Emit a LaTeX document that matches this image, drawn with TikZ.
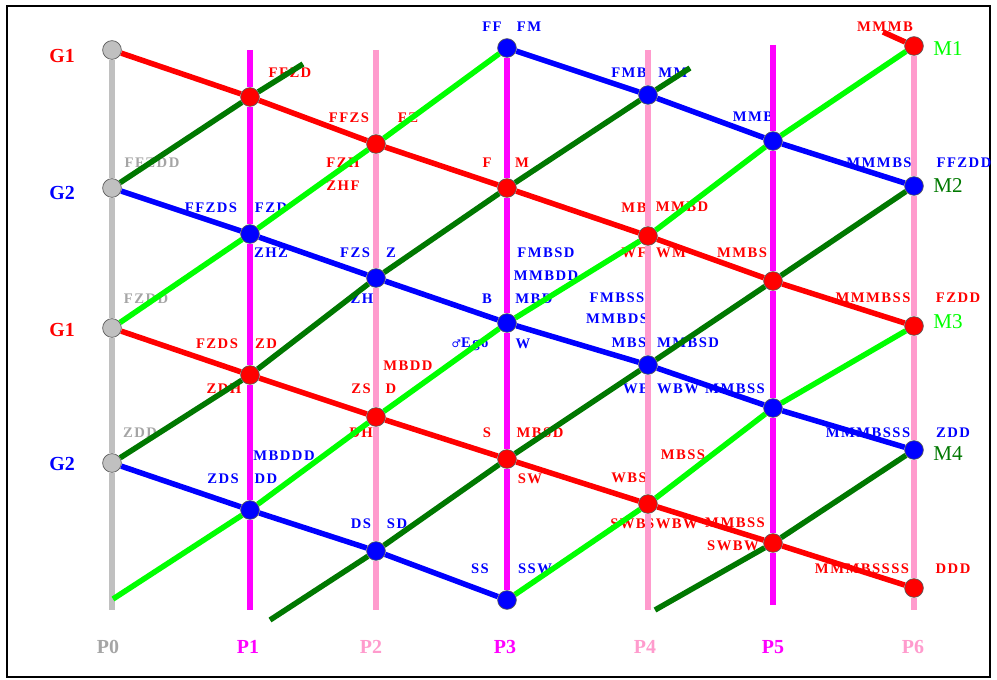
\documentclass[tikz,border=0pt]{standalone}
\usepackage{fontspec}
\setmainfont{Liberation Serif}
\newfontfamily\lblfont[LetterSpace=10]{Liberation Serif}
\newfontfamily\symfont{DejaVu Sans}
\definecolor{kRed}{RGB}{255,0,0}\definecolor{kBlue}{RGB}{0,0,255}
\definecolor{kLime}{RGB}{0,255,0}\definecolor{kDkGreen}{RGB}{0,120,0}
\definecolor{kMag}{RGB}{255,0,255}\definecolor{kPink}{RGB}{255,155,205}
\definecolor{kGray}{RGB}{192,192,192}\definecolor{kGrayTxt}{RGB}{165,165,165}
\tikzset{wire/.style={line width=4.7pt},redl/.style={wire,kRed},bluel/.style={wire,kBlue},
limel/.style={wire,kLime},dgreenl/.style={wire,kDkGreen},
magl/.style={wire,kMag},pinkl/.style={wire,kPink},grayl/.style={wire,kGray},
dot/.style={circle,draw=black!65,line width=.6pt,minimum size=16pt,inner sep=0pt},
rdot/.style={dot,fill=kRed},bdot/.style={dot,fill=kBlue},gdot/.style={dot,fill=kGray},
lbl/.style={inner sep=0pt,font=\lblfont\bfseries\fontsize{12.5}{13}\selectfont},
big/.style={inner sep=0pt,font=\bfseries\fontsize{17}{18}\selectfont},
bigthin/.style={inner sep=0pt,font=\fontsize{18}{19}\selectfont}}

\begin{document}
\begin{tikzpicture}[x=.03cm,y=-.03cm]
\useasboundingbox (0,0) rectangle (997,680);
\draw[line width=2.4pt] (7,6) rectangle (990,677);
% labels
\foreach \x/\y/\t [count=\i] in {290/73/FFZD,349/118/FFZS,408/118/FZ,343/163/FZH,343/186/ZHF,487/163/F,522/163/M,634/208/MB,682/207/MMBD,634/253/WF,671/253/WM,742/253/MMBS,885/27/MMMB,873/298/MMMBSS,958/298/FZDD,217/344/FZDS,266/344/ZD,224/389/ZDH,408/366/MBDD,361/389/ZS,391/389/D,361/433/DH,487/433/S,540/433/MBSD,530/479/SW,683/455/MBSS,629/478/WBS,628/524/SWB,672/524/SWBW,735/523/MMBSS,862/569/MMMBSSSS,953/569/DDD}
  \node[lbl,text=kRed] (r\i) at (\x,\y) {\t};
\node[lbl,text=kRed,anchor=west] (rswbw) at (707,546) {SWBW};
\foreach \x/\y/\t [count=\i] in {492/27/FF,529/27/FM,629/73/FMB,673/73/MM,753/117/MMB,879/163/MMMBS,964/163/FFZDD,211/208/FFZDS,271/208/FZD,271/253/ZHZ,355/253/FZS,391/253/Z,362/299/ZH,546/253/FMBSD,546/276/MMBDD,487/299/B,534/299/MBD,523/344/W,617/298/FMBSS,617/319/MMBDS,629/343/MBS,688/343/MMBSD,636/389/WB,678/389/WBW,735/389/MMBSS,868/433/MMMBSSS,953/433/ZDD,284/456/MBDDD,223/479/ZDS,266/479/DD,361/524/DS,397/524/SD,480/569/SS,535/569/SSW}
  \node[lbl,text=kBlue] (b\i) at (\x,\y) {\t};
\node[lbl,text=kBlue] (ego) at (470,344) {{\symfont\fontsize{9}{9}\selectfont ♂}Ego};
\foreach \x/\y/\t [count=\i] in {152/163/FFZDD,146/299/FZDD,140/433/ZDD}
  \node[lbl,text=kGrayTxt] (gr\i) at (\x,\y) {\t};
\node[big,text=kRed] (lg1a) at (62,56) {G1};\node[big,text=kBlue] (lg2a) at (62,193) {G2};
\node[big,text=kRed] (lg1b) at (62,330) {G1};\node[big,text=kBlue] (lg2b) at (62,464) {G2};
\node[bigthin,text=kLime] (lm1) at (948,49) {M1};\node[bigthin,text=kDkGreen] (lm2) at (948,186) {M2};
\node[bigthin,text=kLime] (lm3) at (948,322) {M3};\node[bigthin,text=kDkGreen] (lm4) at (948,454) {M4};
\foreach \x/\c [count=\i from 0] in {108/kGrayTxt,248/kMag,371/kPink,505/kMag,645/kPink,773/kMag,913/kPink}
  \node[big,text=\c] (lp\i) at (\x,647) {P\i};
% crossing points
\node[gdot] (g1a) at (112,50) {};\node[gdot] (g2a) at (112,188) {};\node[gdot] (g1b) at (112,328) {};\node[gdot] (g2b) at (112,463) {};
\node[rdot] (p1a) at (250,97) {};\node[bdot] (p1b) at (250,234) {};\node[rdot] (p1c) at (250,375) {};\node[bdot] (p1d) at (250,510) {};
\node[rdot] (p2a) at (376,144) {};\node[bdot] (p2b) at (376,278) {};\node[rdot] (p2c) at (376,417) {};\node[bdot] (p2d) at (376,551) {};
\node[bdot] (p3a) at (507,48) {};\node[rdot] (p3b) at (507,188) {};\node[bdot] (p3c) at (507,323) {};\node[rdot] (p3d) at (507,459) {};\node[bdot] (p3e) at (507,600) {};
\node[bdot] (p4a) at (648,95) {};\node[rdot] (p4b) at (648,236) {};\node[bdot] (p4c) at (648,365) {};\node[rdot] (p4d) at (648,504) {};
\node[bdot] (p5a) at (773,141) {};\node[rdot] (p5b) at (773,281) {};\node[bdot] (p5c) at (773,408) {};\node[rdot] (p5d) at (773,543) {};
\node[rdot] (m1) at (914,46) {};\node[bdot] (m2) at (914,186) {};\node[rdot] (m3) at (914,326) {};\node[bdot] (m4) at (914,450) {};\node[rdot] (p6e) at (914,588) {};
% free ends
\coordinate (p0z) at (112,610);\coordinate (p1t) at (250,50);\coordinate (p1z) at (250,610);
\coordinate (p2t) at (376,50);\coordinate (p2z) at (376,610);\coordinate (p4t) at (648,50);\coordinate (p4z) at (648,610);
\coordinate (p5t) at (773,45);\coordinate (p5z) at (773,605);\coordinate (p6z) at (914,610);
\coordinate (dg1) at (303,64);\coordinate (dg2) at (690,68);\coordinate (dg3) at (270,620);\coordinate (dg4) at (655,610);
\coordinate (lg1) at (113,599);\coordinate (rmb) at (883,32);
% verticals
\draw[grayl] (g1a)--(g2a)--(g1b)--(g2b)--(p0z);
\draw[magl] (p1t)--(p1a)--(p1b)--(p1c)--(p1d)--(p1z);
\draw[pinkl] (p2t)--(p2a)--(p2b)--(p2c)--(p2d)--(p2z);
\draw[magl] (p3a)--(p3b)--(p3c)--(p3d)--(p3e);
\draw[pinkl] (p4t)--(p4a)--(p4b)--(p4c)--(p4d)--(p4z);
\draw[magl] (p5t)--(p5a)--(p5b)--(p5c)--(p5d)--(p5z);
\draw[pinkl] (m1)--(m2)--(m3)--(m4)--(p6e)--(p6z);
% lines down
\draw[redl] (g1a)--(p1a)--(p2a)--(p3b)--(p4b)--(p5b)--(m3);
\draw[redl] (g1b)--(p1c)--(p2c)--(p3d)--(p4d)--(p5d)--(p6e);
\draw[redl] (rmb)--(m1);
\draw[bluel] (g2a)--(p1b)--(p2b)--(p3c)--(p4c)--(p5c)--(m4);
\draw[bluel] (g2b)--(p1d)--(p2d)--(p3e);
\draw[bluel] (p3a)--(p4a)--(p5a)--(m2);
% lines up
\draw[limel] (lg1)--(p1d)--(p2c)--(p3c)--(p4b)--(p5a)--(m1);
\draw[limel] (g1b)--(p1b)--(p2a)--(p3a);
\draw[limel] (p3e)--(p4d)--(p5c)--(m3);
\draw[dgreenl] (g2a)--(p1a)--(dg1);
\draw[dgreenl] (g2b)--(p1c)--(p2b)--(p3b)--(p4a)--(dg2);
\draw[dgreenl] (dg3)--(p2d)--(p3d)--(p4c)--(p5b)--(m2);
\draw[dgreenl] (dg4)--(p5d)--(m4);
\end{tikzpicture}
\end{document}
